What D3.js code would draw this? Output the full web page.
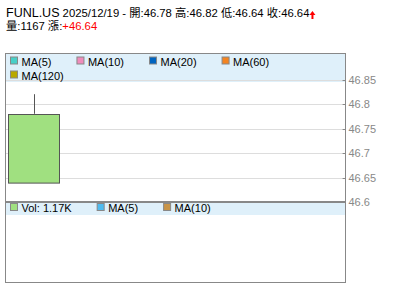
<!DOCTYPE html>
<html>
<head>
<meta charset="utf-8">
<script src="https://cdn.jsdelivr.net/npm/d3@7"></script>
<style>
body { margin: 0; background: #fff; }
text { font-family: "Liberation Sans", Arial, "Noto Sans CJK TC", sans-serif; }
</style>
</head>
<body>
<script>
var width = 400;
var height = 301;

// data
var symbol = 'FUNL.US';
var dates = ['2025/12/19'];
var opens = [46.78];
var highs = [46.82];
var lows = [46.64];
var closes = [46.64];
var volumes = [1167];
var change = '+46.64';
var priceTicks = [46.6, 46.65, 46.7, 46.75, 46.8, 46.85];
var maLegend = ['MA(5)', 'MA(10)', 'MA(20)', 'MA(60)', 'MA(120)'];
var maColors = ['#48d0c8', '#f08cbc', '#0064c0', '#f48420', '#b8a800'];
var volLegend = ['Vol: 1.17K', 'MA(5)', 'MA(10)'];
var volColors = ['#a0e080', '#50bcf0', '#c89448'];
var slots = 6;

var pLeft = 5.5, pRight = 345.5, pTop = 53.5, pMid = 202, pBottom = 282.5;

var svg = d3.select('body')
    .append('svg')
    .attr('width', width)
    .attr('height', height);

// header
var t1 = svg.append('text').attr('x', 6).attr('y', 17).attr('font-size', 11.3).attr('fill', '#000');
t1.append('tspan').attr('font-size', 12.5).text(symbol);
t1.append('tspan').text(' ' + dates[0] + ' - 開:' + opens[0] + ' 高:' + highs[0] + ' 低:' + lows[0] + ' 收:' + closes[0]);
var tb = t1.node().getBBox();
var ax = tb.x + tb.width + 3;
svg.append('path')
    .attr('d', 'M' + ax + ',11 l3,4 h-2 v4 h-2 v-4 h-2 z')
    .attr('fill', '#f00');

var t2 = svg.append('text').attr('x', 6).attr('y', 30).attr('font-size', 11.3).attr('fill', '#000');
t2.append('tspan').text('量:' + volumes[0] + ' 漲:');
t2.append('tspan').attr('fill', '#f00').text(change);

// scales
var x = d3.scaleBand()
    .domain(d3.range(slots))
    .range([pLeft, pRight])
    .paddingInner(0.1)
    .paddingOuter(0.05);

var y = d3.scaleLinear()
    .domain([46.6, 46.85])
    .range([pMid, 79.5]);

// legend backgrounds
svg.append('rect').attr('x', pLeft).attr('y', pTop).attr('width', pRight - pLeft).attr('height', 28.5).attr('fill', '#dff0fa');
svg.append('rect').attr('x', pLeft).attr('y', pMid + 1).attr('width', pRight - pLeft).attr('height', 12).attr('fill', '#dff0fa');

// grid + axis
var yAxis = d3.axisRight(y)
    .tickValues(priceTicks)
    .tickSize(0)
    .tickPadding(3)
    .tickFormat(d3.format(''));
var ga = svg.append('g').attr('transform', 'translate(' + pRight + ',0)').call(yAxis);
ga.select('.domain').remove();
ga.selectAll('text').attr('fill', '#888').attr('font-size', 11).attr('font-family', '"Liberation Sans", Arial');

svg.append('g').selectAll('line')
    .data(priceTicks.filter(d => d > 46.6))
    .enter()
    .append('line')
    .attr('x1', pLeft).attr('x2', pRight - 3)
    .attr('y1', d => Math.round(y(d)) + 0.5).attr('y2', d => Math.round(y(d)) + 0.5)
    .attr('stroke', '#ddd');
svg.append('g').selectAll('line')
    .data(priceTicks)
    .enter()
    .append('line')
    .attr('x1', pRight - 3).attr('x2', pRight)
    .attr('y1', d => Math.round(y(d)) + 0.5).attr('y2', d => Math.round(y(d)) + 0.5)
    .attr('stroke', '#888');

// candles
var candles = svg.append('g');
candles.selectAll('line')
    .data(dates)
    .enter()
    .append('line')
    .attr('x1', (d, i) => Math.round(x(i) + x.bandwidth() / 2) + 0.5)
    .attr('x2', (d, i) => Math.round(x(i) + x.bandwidth() / 2) + 0.5)
    .attr('y1', (d, i) => y(highs[i]))
    .attr('y2', (d, i) => y(Math.max(opens[i], closes[i])))
    .attr('stroke', '#555');
candles.selectAll('rect')
    .data(dates)
    .enter()
    .append('rect')
    .attr('x', (d, i) => Math.round(x(i)) + 0.5)
    .attr('y', (d, i) => Math.round(y(Math.max(opens[i], closes[i]))) + 0.5)
    .attr('width', x.bandwidth())
    .attr('height', (d, i) => Math.abs(y(opens[i]) - y(closes[i])))
    .attr('fill', (d, i) => closes[i] <= opens[i] ? '#a0e080' : '#f08080')
    .attr('stroke', '#555');

// frames
svg.append('rect').attr('x', pLeft).attr('y', pTop).attr('width', pRight - pLeft).attr('height', pBottom - pTop)
    .attr('fill', 'none').attr('stroke', '#888');
svg.append('line').attr('x1', pLeft).attr('x2', pRight).attr('y1', pMid).attr('y2', pMid)
    .attr('stroke', '#888').attr('stroke-width', 2);

// legends
function legend(items, colors, y0, maxX) {
    var g = svg.append('g');
    var cx = 10, cy = y0;
    items.forEach(function(name, i) {
        var t = g.append('text').attr('font-size', 11).attr('fill', '#000').text(name);
        var w = t.node().getComputedTextLength();
        if (cx + 12 + w > maxX) { cx = 10; cy += 14; }
        g.append('rect').attr('x', cx + 0.5).attr('y', cy - 7.5).attr('width', 7).attr('height', 7)
            .attr('fill', colors[i]).attr('stroke', '#888');
        t.attr('x', cx + 11.5).attr('y', cy + 1);
        cx += 11.5 + w + 25;
    });
}
legend(maLegend, maColors, 64.5, pRight);
legend(volLegend, volColors, 211, pRight);
</script>
</body>
</html>
